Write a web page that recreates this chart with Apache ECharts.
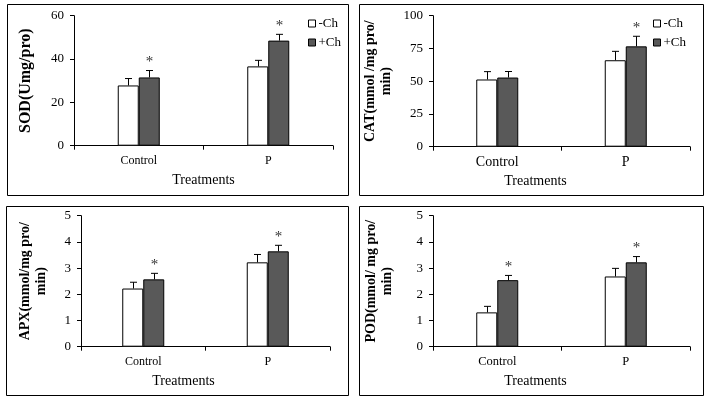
<!DOCTYPE html>
<html>
<head>
<meta charset="utf-8">
<script src="https://cdn.jsdelivr.net/npm/echarts@6/dist/echarts.min.js"></script>
<style>
  html, body { margin: 0; padding: 0; background: #fff; }
  #chart { width: 707px; height: 399px; }
</style>
</head>
<body>
<div id="chart"></div>
<script>
// categories
const categories = ['Control', 'P']

// SOD
const sodMinus = [27.8, 36.6]
const sodMinusErr = [3.2, 2.8]
const sodPlus = [31.5, 48.5]
const sodPlusErr = [3.2, 2.9]
const sodSig = [1, 1]

// CAT
const catMinus = [51.3, 66]
const catMinusErr = [6, 6.8]
const catPlus = [52.8, 76.6]
const catPlusErr = [4.6, 7.7]
const catSig = [0, 1]

// APX
const apxMinus = [2.22, 3.22]
const apxMinusErr = [0.24, 0.3]
const apxPlus = [2.57, 3.64]
const apxPlusErr = [0.23, 0.23]
const apxSig = [1, 1]

// POD
const podMinus = [1.31, 2.68]
const podMinusErr = [0.23, 0.31]
const podPlus = [2.54, 3.22]
const podPlusErr = [0.18, 0.22]
const podSig = [1, 1]

const FONT = 'Liberation Serif, Times New Roman, serif'
const BAR_W = 21
const DARK = '#595959'

const panels = [
  { name: 'SOD(Umg/pro)', nameSize: 16, nameGap: 40, max: 60, interval: 20, catSize: 12, xShift: 0,
    minus: sodMinus, minusErr: sodMinusErr, plus: sodPlus, plusErr: sodPlusErr, sig: sodSig,
    grid: { left: 74, top: 15.7, width: 259, height: 130 } },
  { name: 'CAT(mmol /mg pro/\nmin)', nameSize: 14, nameGap: 39, max: 100, interval: 25, catSize: 14, xShift: 52,
    minus: catMinus, minusErr: catMinusErr, plus: catPlus, plusErr: catPlusErr, sig: catSig,
    grid: { left: 433, top: 15.7, width: 257, height: 131 } },
  { name: 'APX(mmol/mg pro/\nmin)', nameSize: 14, nameGap: 32, max: 5, interval: 1, catSize: 12, xShift: 44,
    minus: apxMinus, minusErr: apxMinusErr, plus: apxPlus, plusErr: apxPlusErr, sig: apxSig,
    grid: { left: 81, top: 215.7, width: 249, height: 131 } },
  { name: 'POD(mmol/ mg pro/\nmin)', nameSize: 14, nameGap: 38, max: 5, interval: 1, catSize: 12.5, xShift: 52,
    minus: podMinus, minusErr: podMinusErr, plus: podPlus, plusErr: podPlusErr, sig: podSig,
    grid: { left: 433, top: 215.7, width: 257, height: 131 } }
]

// error bar + asterisk
function renderError(params, api) {
  const cat = api.value(0)
  const val = api.value(1)
  const err = api.value(2)
  const side = api.value(3)
  const sig = api.value(4)
  const base = api.coord([cat, val])
  const top = api.coord([cat, val + err])
  const x = Math.round(base[0] + side * BAR_W / 2) + 0.5
  const children = [
    { type: 'line', shape: { x1: x, y1: base[1], x2: x, y2: top[1] }, style: { stroke: '#000', lineWidth: 1 } },
    { type: 'line', shape: { x1: x - 3.5, y1: top[1], x2: x + 3.5, y2: top[1] }, style: { stroke: '#000', lineWidth: 1 } }
  ]
  if (sig) {
    children.push({
      type: 'text',
      x: x,
      y: top[1] - 1,
      style: { text: '*', fill: '#333', font: '15px ' + FONT, align: 'center', verticalAlign: 'bottom' }
    })
  }
  return { type: 'group', children: children }
}

const chart = echarts.init(document.getElementById('chart'))

const grid = [], xAxis = [], yAxis = [], series = []
panels.forEach((p, i) => {
  grid.push(p.grid)
  xAxis.push({
    type: 'category',
    gridIndex: i,
    data: categories,
    name: 'Treatments',
    nameLocation: 'middle',
    nameGap: 28,
    nameTextStyle: { fontFamily: FONT, fontSize: 14, color: '#000', padding: [0, p.xShift, 0, 0] },
    axisLine: { lineStyle: { color: '#000', width: 1 } },
    axisTick: { show: true, length: 4, lineStyle: { color: '#000' } },
    axisLabel: { fontFamily: FONT, fontSize: p.catSize, color: '#000', margin: 9 }
  })
  yAxis.push({
    type: 'value',
    gridIndex: i,
    min: 0,
    max: p.max,
    interval: p.interval,
    name: p.name,
    nameLocation: 'middle',
    nameGap: p.nameGap,
    nameTextStyle: { fontFamily: FONT, fontSize: p.nameSize, fontWeight: 'bold', color: '#000', lineHeight: 16 },
    axisLine: { show: true, lineStyle: { color: '#000', width: 1 } },
    axisTick: { show: true, length: 4, lineStyle: { color: '#000' } },
    axisLabel: { fontFamily: FONT, fontSize: 13, color: '#000', margin: 10 },
    splitLine: { show: false }
  })
  series.push({
    name: '-Ch',
    type: 'bar',
    xAxisIndex: i,
    yAxisIndex: i,
    barWidth: BAR_W,
    barGap: '0%',
    data: p.minus,
    itemStyle: { color: '#fff', borderColor: '#000', borderWidth: 1 }
  })
  series.push({
    name: '+Ch',
    type: 'bar',
    xAxisIndex: i,
    yAxisIndex: i,
    barWidth: BAR_W,
    barGap: '0%',
    data: p.plus,
    itemStyle: { color: DARK, borderColor: '#000', borderWidth: 1 }
  })
  const errData = []
  categories.forEach((c, k) => {
    errData.push([k, p.minus[k], p.minusErr[k], -1, 0])
    errData.push([k, p.plus[k], p.plusErr[k], 1, p.sig[k]])
  })
  series.push({
    name: 'err' + i,
    type: 'custom',
    xAxisIndex: i,
    yAxisIndex: i,
    renderItem: renderError,
    data: errData,
    z: 5,
    clip: false,
    silent: true
  })
})

const legendBase = {
  orient: 'vertical',
  icon: 'rect',
  itemWidth: 7,
  itemHeight: 7,
  itemGap: 6,
  data: ['-Ch', '+Ch'],
  itemStyle: { borderColor: '#000', borderWidth: 1 },
  textStyle: { fontFamily: FONT, fontSize: 13, color: '#000', padding: [0, 0, 0, -2] },
  selectedMode: false
}

const option = {
  animation: false,
  backgroundColor: '#fff',
  grid: grid,
  xAxis: xAxis,
  yAxis: yAxis,
  series: series,
  legend: [
    Object.assign({}, legendBase, { left: 303, top: 12 }),
    Object.assign({}, legendBase, { left: 648, top: 12 })
  ],
  graphic: [
    { type: 'rect', shape: { x: 7.5, y: 4.5, width: 341, height: 191 }, style: { fill: 'none', stroke: '#000', lineWidth: 1 } },
    { type: 'rect', shape: { x: 359.5, y: 4.5, width: 344, height: 191 }, style: { fill: 'none', stroke: '#000', lineWidth: 1 } },
    { type: 'rect', shape: { x: 6.5, y: 206.5, width: 342, height: 189 }, style: { fill: 'none', stroke: '#000', lineWidth: 1 } },
    { type: 'rect', shape: { x: 359.5, y: 206.5, width: 344, height: 189 }, style: { fill: 'none', stroke: '#000', lineWidth: 1 } }
  ]
}

chart.setOption(option)
</script>
</body>
</html>
